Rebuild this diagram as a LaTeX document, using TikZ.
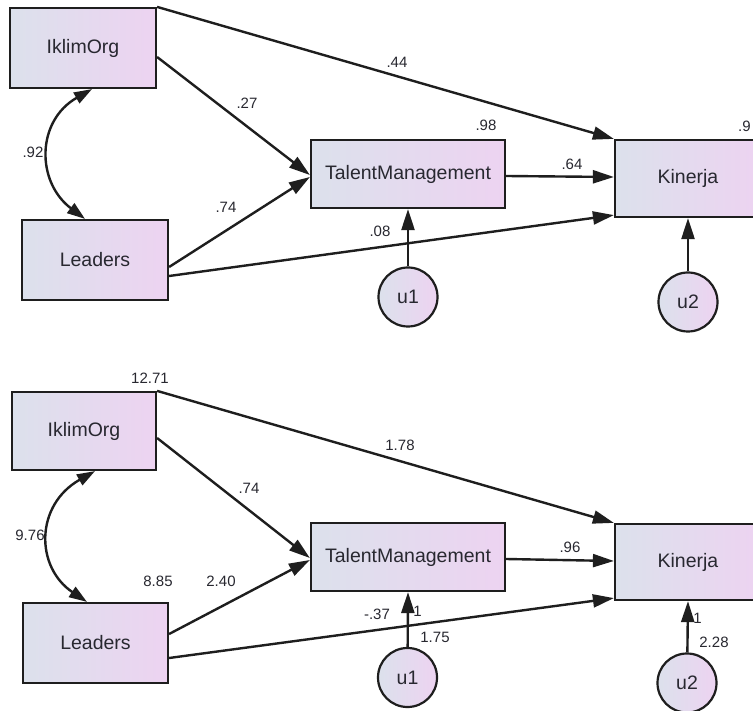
\documentclass[tikz,border=0pt]{standalone}
\usepackage{fontspec}
\setmainfont{Liberation Sans}
\usetikzlibrary{arrows.meta}
\definecolor{shadeL}{RGB}{220,225,236}
\definecolor{shadeR}{RGB}{237,211,241}
\definecolor{ink}{RGB}{30,30,30}
\definecolor{txt}{RGB}{40,40,48}
\tikzset{
  varbox/.style={draw=ink, line width=2.2pt, left color=shadeL, right color=shadeR,
    inner sep=0pt, text=txt, font=\fontsize{19.5}{22}\selectfont},
  errcirc/.style={circle, draw=ink, line width=2.2pt, left color=shadeL, right color=shadeR,
    minimum size=59pt, inner sep=0pt, text=txt, font=\fontsize{19.5}{22}\selectfont},
  path/.style={draw=ink, line width=2.4pt, -{Triangle[length=21pt,width=13pt]}},
  cov/.style={draw=ink, line width=2.4pt, {Triangle[length=18pt,width=12pt]}-{Triangle[length=18pt,width=12pt]}},
  lab/.style={inner sep=0pt, text=txt, font=\fontsize{15}{17}\selectfont}
}
\begin{document}
\begin{tikzpicture}[x=1pt,y=-1pt]
\useasboundingbox (0,0) rectangle (753,711);
\clip (0,0) rectangle (753,711);
\fill[white] (0,0) rectangle (753,711);

% ---------- top model ----------
\node[varbox, minimum width=146pt, minimum height=80pt] (io1) at (83,48) {IklimOrg};
\node[varbox, minimum width=146pt, minimum height=80pt] (ld1) at (95,260) {Leaders};
\node[varbox, minimum width=194pt, minimum height=68pt] (tm1) at (408,174) {TalentManagement};
\node[varbox, minimum width=146pt, minimum height=77pt] (kn1) at (688,178.5) {Kinerja};
\node[errcirc] (u11) at (408,297) {u1};
\node[errcirc] (u21) at (688,302) {u2};

\draw[path] (io1.north east) -- (kn1.north west);
\draw[path] ([yshift=-9pt]io1.east) -- ([yshift=-1pt]tm1.west);
\draw[path] ([yshift=-7pt]ld1.east) -- ([yshift=-3pt]tm1.west);
\draw[path] ([yshift=-16pt]ld1.east) -- ([yshift=3pt]kn1.south west);
\draw[path] ([yshift=-2pt]tm1.east) -- ([yshift=1.5pt]kn1.west);
\draw[path] (u11) -- (tm1.south);
\draw[path] (u21) -- (kn1.south);
\draw[cov] ([xshift=9pt]io1.south) .. controls (36,121) and (36,182) .. ([xshift=-10pt]ld1.north);

\node[lab] (t44) at (397,62) {.44};
\node[lab] (t27) at (247,103) {.27};
\node[lab] (t92) at (33,152) {.92};
\node[lab] (t74) at (226,207) {.74};
\node[lab] (t08) at (380,231) {.08};
\node[lab] (t98) at (486,125) {.98};
\node[lab] (t64) at (572,164) {.64};
\node[lab, anchor=west] (t9) at (738,126) {.9};

% ---------- bottom model ----------
\node[varbox, minimum width=144pt, minimum height=78pt] (io2) at (84,431) {IklimOrg};
\node[varbox, minimum width=145pt, minimum height=80pt] (ld2) at (95.5,643) {Leaders};
\node[varbox, minimum width=194pt, minimum height=68pt] (tm2) at (408,557) {TalentManagement};
\node[varbox, minimum width=146pt, minimum height=76pt] (kn2) at (688,562) {Kinerja};
\node[errcirc] (u12) at (407.5,677.5) {u1};
\node[errcirc] (u22) at (687,683) {u2};

\draw[path] (io2.north east) -- (kn2.north west);
\draw[path] ([yshift=-7pt]io2.east) -- ([yshift=-1pt]tm2.west);
\draw[path] ([yshift=9pt]ld2.east) -- ([yshift=-3pt]tm2.west);
\draw[path] ([yshift=-15pt]ld2.east) -- ([yshift=3pt]kn2.south west);
\draw[path] ([yshift=-2pt]tm2.east) -- ([yshift=1pt]kn2.west);
\draw[path] (u12) -- (tm2.south);
\draw[path] (u22) -- (kn2.south);
\draw[cov] ([xshift=11pt]io2.south) .. controls (35,505) and (35,567) .. ([xshift=-8.5pt]ld2.north);

\node[lab] (b1271) at (150,378) {12.71};
\node[lab] (b178) at (400,445) {1.78};
\node[lab] (b74) at (249,488) {.74};
\node[lab] (b976) at (30,535) {9.76};
\node[lab] (b885) at (158,581) {8.85};
\node[lab] (b240) at (221,581) {2.40};
\node[lab] (b37) at (377,614) {-.37};
\node[lab] (bone1) at (417.5,611) {1};
\node[lab] (b175) at (435,637) {1.75};
\node[lab] (b96) at (570,547) {.96};
\node[lab] (bone2) at (697.5,618) {1};
\node[lab] (b228) at (714,642) {2.28};
\end{tikzpicture}
\end{document}
